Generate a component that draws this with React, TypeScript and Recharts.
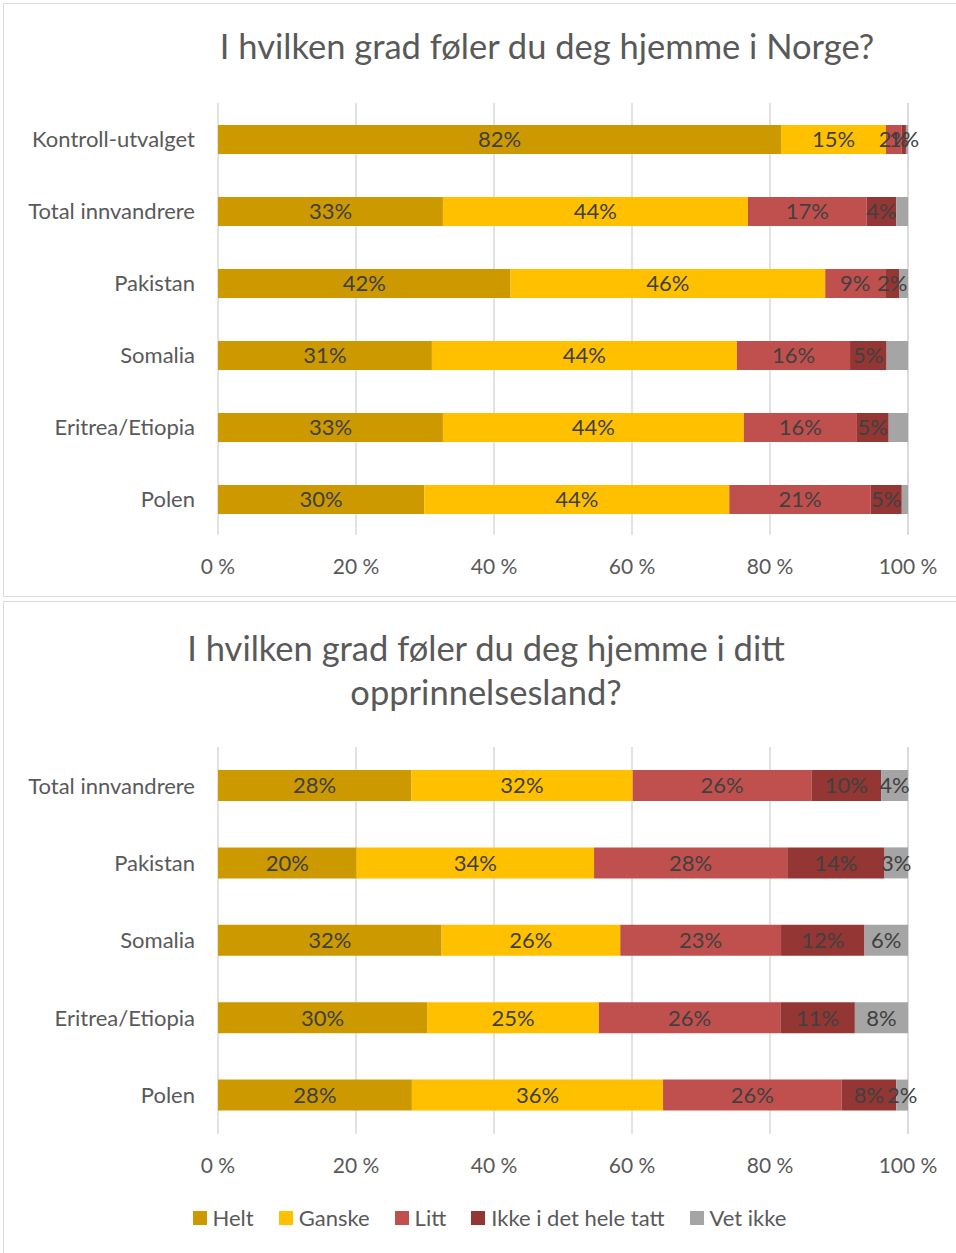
import { BarChart, Bar, XAxis, YAxis, CartesianGrid, LabelList, Legend } from 'recharts';

const topCategories = ['Kontroll-utvalget', 'Total innvandrere', 'Pakistan', 'Somalia', 'Eritrea/Etiopia', 'Polen'];
const topHelt = [81.6, 32.6, 42.4, 31.0, 32.6, 29.9];
const topGanske = [15.2, 44.2, 45.6, 44.2, 43.6, 44.2];
const topLitt = [2.3, 17.2, 8.7, 16.4, 16.4, 20.5];
const topIkke = [0.6, 4.3, 2.0, 5.3, 4.6, 4.5];
const topVet = [0.3, 1.7, 1.3, 3.1, 2.8, 0.9];

const bottomCategories = ['Total innvandrere', 'Pakistan', 'Somalia', 'Eritrea/Etiopia', 'Polen'];
const bottomHelt = [28.0, 20.1, 32.4, 30.3, 28.1];
const bottomGanske = [32.1, 34.4, 25.9, 24.9, 36.4];
const bottomLitt = [25.9, 28.0, 23.3, 26.3, 25.9];
const bottomIkke = [10.1, 14.1, 12.1, 10.8, 7.9];
const bottomVet = [3.9, 3.4, 6.3, 7.7, 1.7];

const ticks = [0, 20, 40, 60, 80, 100];

const series = [
  { key: 'helt', name: 'Helt', color: '#CC9900' },
  { key: 'ganske', name: 'Ganske', color: '#FFC000' },
  { key: 'litt', name: 'Litt', color: '#C0504D' },
  { key: 'ikke', name: 'Ikke i det hele tatt', color: '#943634' },
  { key: 'vet', name: 'Vet ikke', color: '#A5A5A5' },
];

const FONT = 'Lato, "Open Sans", sans-serif';
const GREY = '#595959';

const topData = topCategories.map((name, i) => ({
  name, helt: topHelt[i], ganske: topGanske[i], litt: topLitt[i], ikke: topIkke[i], vet: topVet[i],
}));
const bottomData = bottomCategories.map((name, i) => ({
  name, helt: bottomHelt[i], ganske: bottomGanske[i], litt: bottomLitt[i], ikke: bottomIkke[i], vet: bottomVet[i],
}));

const pct = (v: any) => `${Math.round(Number(v))}%`;

function LegendContent() {
  return (
    <div style={{ display: 'flex', justifyContent: 'center', fontFamily: FONT, fontSize: 22, color: GREY }}>
      {series.map((s) => (
        <div key={s.key} style={{ display: 'flex', alignItems: 'center', marginRight: 25 }}>
          <span style={{ width: 14, height: 14, background: s.color, display: 'inline-block', marginRight: 6 }} />
          <span>{s.name}</span>
        </div>
      ))}
    </div>
  );
}

function StackChart({ data, height, margin, barSize, labelVet, legend }: any) {
  return (
    <BarChart width={956} height={height} data={data} layout="vertical" margin={margin}>
      <CartesianGrid horizontal={false} stroke="#d9d9d9" strokeWidth={1.5} />
      <XAxis
        type="number"
        domain={[0, 100]}
        ticks={ticks}
        tickFormatter={(v) => `${v} %`}
        axisLine={false}
        tickLine={false}
        tickMargin={18}
        height={30}
        tick={{ fill: GREY, fontSize: 21, fontFamily: FONT }}
      />
      <YAxis
        type="category"
        dataKey="name"
        width={200}
        axisLine={false}
        tickLine={false}
        tickMargin={17}
        tick={{ fill: GREY, fontSize: 22, fontFamily: FONT }}
      />
      {series.map((s) => (
        <Bar key={s.key} dataKey={s.key} name={s.name} stackId="a" fill={s.color} barSize={barSize} isAnimationActive={false}>
          {(s.key !== 'vet' || labelVet) && (
            <LabelList dataKey={s.key} position="center" formatter={pct} fill="#404040" fontSize={22} fontFamily={FONT} />
          )}
        </Bar>
      ))}
      {legend && (
        <Legend
          verticalAlign="middle"
          align="center"
          content={<LegendContent />}
          wrapperStyle={{ top: 604, left: 12, width: 980 }}
        />
      )}
    </BarChart>
  );
}

export default function App() {
  return (
    <div style={{ position: 'absolute', left: 0, top: 0, width: 956, height: 1253, overflow: 'hidden', background: '#fff' }}>
      <div style={{ position: 'absolute', left: 3, top: 3, width: 1000, height: 592, border: '1.5px solid #d9d9d9' }} />
      <div style={{ position: 'absolute', left: 3, top: 601, width: 1000, height: 700, border: '1.5px solid #d9d9d9' }} />
      <div style={{ position: 'absolute', left: 0, top: 24, width: 1094, textAlign: 'center', fontFamily: FONT, fontSize: 34.5, lineHeight: '44px', color: GREY, whiteSpace: 'nowrap' }}>
        I hvilken grad føler du deg hjemme i Norge?
      </div>
      <div style={{ position: 'absolute', left: 0, top: 626, width: 972, textAlign: 'center', fontFamily: FONT, fontSize: 34.5, color: GREY, lineHeight: '44px', whiteSpace: 'nowrap' }}>
        I hvilken grad føler du deg hjemme i ditt<br />opprinnelsesland?
      </div>
      <div style={{ position: 'absolute', left: 0, top: 0 }}>
        <StackChart data={topData} height={597} margin={{ top: 103, right: 48, bottom: 32, left: 18 }} barSize={29} labelVet={false} legend={false} />
      </div>
      <div style={{ position: 'absolute', left: 0, top: 600 }}>
        <StackChart data={bottomData} height={653} margin={{ top: 147, right: 48, bottom: 89, left: 18 }} barSize={31} labelVet={true} legend={true} />
      </div>
    </div>
  );
}
